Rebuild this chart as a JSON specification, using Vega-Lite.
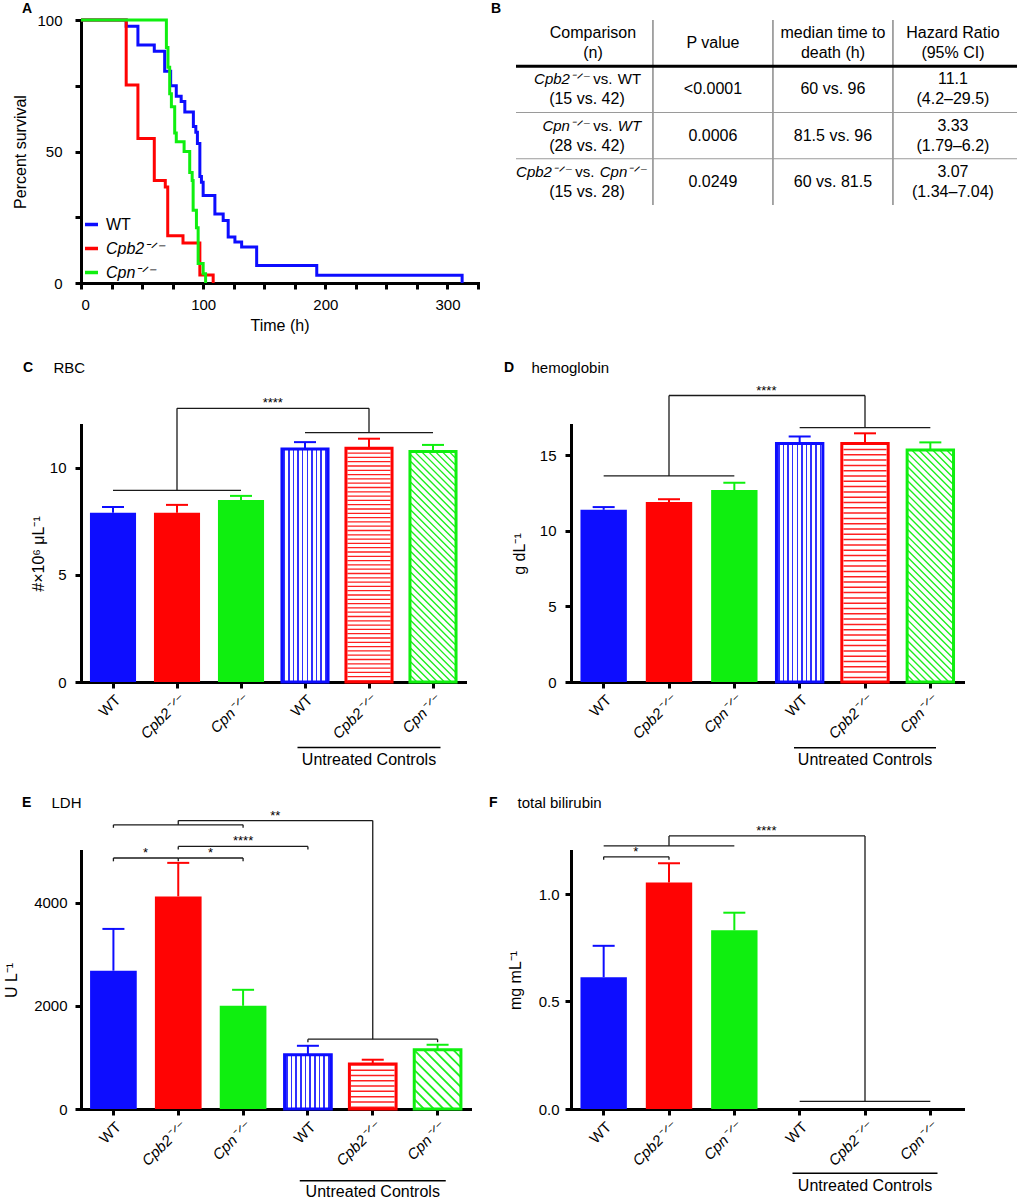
{
"$schema": "https://vega.github.io/schema/vega-lite/v6.json",
"padding": {"left": 3, "top": 2, "right": 0, "bottom": 0},
"spacing": 27,
"resolve": {"scale": {"color": "independent", "stroke": "independent"}, "legend": {"color": "independent", "stroke": "independent"}},
"config": {
  "font": "Liberation Sans",
  "view": {"stroke": null},
  "axis": {"domainColor": "black", "domainWidth": 3, "domainCap": "square", "tickColor": "black", "tickWidth": 3, "tickSize": 6, "labelColor": "black", "labelFontSize": 15, "titleColor": "black", "titleFontSize": 16, "titleFontWeight": "normal", "grid": false, "labelFont": "Liberation Sans", "titleFont": "Liberation Sans"},
  "title": {"anchor": "start", "frame": "group", "fontSize": 14, "fontWeight": "bold", "color": "black", "font": "Liberation Sans"},
  "text": {"font": "Liberation Sans", "color": "black"},
  "legend": {"labelFont": "Liberation Sans", "labelColor": "black"}
},
"datasets": {
  "surv": [
    {"g":"WT","t":0,"s":100},{"g":"WT","t":37,"s":97.6},{"g":"WT","t":46.6,"s":90.5},{"g":"WT","t":60,"s":88.1},{"g":"WT","t":68.5,"s":80.5},{"g":"WT","t":73.4,"s":75},{"g":"WT","t":78,"s":71},{"g":"WT","t":82,"s":69},{"g":"WT","t":85,"s":65},{"g":"WT","t":92,"s":59.5},{"g":"WT","t":94,"s":57.3},{"g":"WT","t":95.3,"s":53},{"g":"WT","t":97.3,"s":40.5},{"g":"WT","t":98.6,"s":38.3},{"g":"WT","t":100,"s":33.3},{"g":"WT","t":109.6,"s":26.2},{"g":"WT","t":116.4,"s":23.8},{"g":"WT","t":120.5,"s":17.5},{"g":"WT","t":126,"s":15.6},{"g":"WT","t":131.5,"s":13.7},{"g":"WT","t":143.8,"s":6.7},{"g":"WT","t":193,"s":2.9},{"g":"WT","t":312,"s":0},
    {"g":"Cpb2⁻ᐟ⁻","t":0,"s":100},{"g":"Cpb2⁻ᐟ⁻","t":37,"s":75.3},{"g":"Cpb2⁻ᐟ⁻","t":46.6,"s":54.9},{"g":"Cpb2⁻ᐟ⁻","t":60,"s":39},{"g":"Cpb2⁻ᐟ⁻","t":69,"s":36.5},{"g":"Cpb2⁻ᐟ⁻","t":71,"s":18},{"g":"Cpb2⁻ᐟ⁻","t":83.5,"s":15.2},{"g":"Cpb2⁻ᐟ⁻","t":97.3,"s":3},{"g":"Cpb2⁻ᐟ⁻","t":108.2,"s":0},
    {"g":"Cpn⁻ᐟ⁻","t":0,"s":100},{"g":"Cpn⁻ᐟ⁻","t":69.9,"s":89.5},{"g":"Cpn⁻ᐟ⁻","t":71.2,"s":82},{"g":"Cpn⁻ᐟ⁻","t":72.6,"s":72},{"g":"Cpn⁻ᐟ⁻","t":74,"s":67},{"g":"Cpn⁻ᐟ⁻","t":76.7,"s":57},{"g":"Cpn⁻ᐟ⁻","t":78,"s":53.7},{"g":"Cpn⁻ᐟ⁻","t":84.4,"s":50},{"g":"Cpn⁻ᐟ⁻","t":89,"s":42},{"g":"Cpn⁻ᐟ⁻","t":91,"s":39},{"g":"Cpn⁻ᐟ⁻","t":91.8,"s":27.7},{"g":"Cpn⁻ᐟ⁻","t":94.5,"s":21},{"g":"Cpn⁻ᐟ⁻","t":95.9,"s":7.4},{"g":"Cpn⁻ᐟ⁻","t":100,"s":3.5},{"g":"Cpn⁻ᐟ⁻","t":102,"s":0}
  ],
  "cells": [
    {"col":"c1","row":"h","t1":"Comparison","t2":"(n)"},
    {"col":"c2","row":"h","t0":"P value"},
    {"col":"c3","row":"h","t1":"median time to","t2":"death (h)"},
    {"col":"c4","row":"h","t1":"Hazard Ratio","t2":"(95% CI)"},
    {"col":"c2","row":"r1","t0":"<0.0001"},
    {"col":"c3","row":"r1","t0":"60 vs. 96"},
    {"col":"c4","row":"r1","t1":"11.1","t2":"(4.2–29.5)"},
    {"col":"c2","row":"r2","t0":"0.0006"},
    {"col":"c3","row":"r2","t0":"81.5 vs. 96"},
    {"col":"c4","row":"r2","t1":"3.33","t2":"(1.79–6.2)"},
    {"col":"c2","row":"r3","t0":"0.0249"},
    {"col":"c3","row":"r3","t0":"60 vs. 81.5"},
    {"col":"c4","row":"r3","t1":"3.07","t2":"(1.34–7.04)"}
  ],
  "cmp": [
    {"col":"c1","row":"r1","a":"Cpb2⁻ᐟ⁻","b":"WT","n":"(15 vs. 42)"},
    {"col":"c1","row":"r2","a":"Cpn⁻ᐟ⁻","b":"WT","n":"(28 vs. 42)"},
    {"col":"c1","row":"r3","a":"Cpb2⁻ᐟ⁻","b":"Cpn⁻ᐟ⁻","n":"(15 vs. 28)"}
  ],
  "vsep": [{"col":"c2"},{"col":"c3"},{"col":"c4"}],
  "hsep": [{"row":"r1","kind":"header"},{"row":"r2","kind":"row"},{"row":"r3","kind":"row"}],
  "C": [
    {"key":"T|WT","grp":"T","g":"WT","v":7.9,"e":8.17},
    {"key":"T|Cpb2","grp":"T","g":"Cpb2","v":7.9,"e":8.27},
    {"key":"T|Cpn","grp":"T","g":"Cpn","v":8.5,"e":8.69},
    {"key":"U|WT","grp":"U","g":"WT","v":10.88,"e":11.2},
    {"key":"U|Cpb2","grp":"U","g":"Cpb2","v":10.92,"e":11.36},
    {"key":"U|Cpn","grp":"U","g":"Cpn","v":10.76,"e":11.07}
  ],
  "D": [
    {"key":"T|WT","grp":"T","g":"WT","v":11.39,"e":11.57},
    {"key":"T|Cpb2","grp":"T","g":"Cpb2","v":11.91,"e":12.09},
    {"key":"T|Cpn","grp":"T","g":"Cpn","v":12.7,"e":13.18},
    {"key":"U|WT","grp":"U","g":"WT","v":15.78,"e":16.24},
    {"key":"U|Cpb2","grp":"U","g":"Cpb2","v":15.78,"e":16.45},
    {"key":"U|Cpn","grp":"U","g":"Cpn","v":15.35,"e":15.85}
  ],
  "E": [
    {"key":"T|WT","grp":"T","g":"WT","v":2680,"e":3490},
    {"key":"T|Cpb2","grp":"T","g":"Cpb2","v":4120,"e":4770},
    {"key":"T|Cpn","grp":"T","g":"Cpn","v":2000,"e":2310},
    {"key":"U|WT","grp":"U","g":"WT","v":1050,"e":1225},
    {"key":"U|Cpb2","grp":"U","g":"Cpb2","v":870,"e":955},
    {"key":"U|Cpn","grp":"U","g":"Cpn","v":1150,"e":1245}
  ],
  "F": [
    {"key":"T|WT","grp":"T","g":"WT","v":0.613,"e":0.759},
    {"key":"T|Cpb2","grp":"T","g":"Cpb2","v":1.054,"e":1.143},
    {"key":"T|Cpn","grp":"T","g":"Cpn","v":0.831,"e":0.913}
  ],
  "Cbr": [
    {"a":"T|WT","b":"T|Cpn","y1":8.95,"y2":8.95},
    {"a":"T|Cpb2","b":"T|Cpb2","y1":8.95,"y2":12.78},
    {"a":"T|Cpb2","b":"U|Cpb2","y1":12.78,"y2":12.78},
    {"a":"U|Cpb2","b":"U|Cpb2","y1":12.78,"y2":11.64},
    {"a":"U|WT","b":"U|Cpn","y1":11.64,"y2":11.64}
  ],
  "Cst": [{"key":"T|Cpn","y":12.78,"t":"****","pos":"mid"}],
  "Dbr": [
    {"a":"T|WT","b":"T|Cpn","y1":13.63,"y2":13.63},
    {"a":"T|Cpb2","b":"T|Cpb2","y1":13.63,"y2":18.95},
    {"a":"T|Cpb2","b":"U|Cpb2","y1":18.95,"y2":18.95},
    {"a":"U|Cpb2","b":"U|Cpb2","y1":18.95,"y2":16.82},
    {"a":"U|WT","b":"U|Cpn","y1":16.82,"y2":16.82}
  ],
  "Dst": [{"key":"T|Cpn","y":18.95,"t":"****","pos":"mid"}],
  "Ebr": [
    {"a":"T|WT","b":"T|Cpb2","y1":4864,"y2":4864},
    {"a":"T|WT","b":"T|WT","y1":4864,"y2":4800},
    {"a":"T|Cpb2","b":"T|Cpb2","y1":4864,"y2":4800},
    {"a":"T|Cpb2","b":"T|Cpn","y1":4864,"y2":4864},
    {"a":"T|Cpn","b":"T|Cpn","y1":4864,"y2":4800},
    {"a":"T|Cpb2","b":"U|WT","y1":5088,"y2":5088},
    {"a":"T|Cpb2","b":"T|Cpb2","y1":5088,"y2":5030},
    {"a":"U|WT","b":"U|WT","y1":5088,"y2":5030},
    {"a":"T|WT","b":"T|Cpn","y1":5507,"y2":5507},
    {"a":"T|WT","b":"T|WT","y1":5507,"y2":5450},
    {"a":"T|Cpn","b":"T|Cpn","y1":5507,"y2":5450},
    {"a":"T|Cpb2","b":"T|Cpb2","y1":5507,"y2":5590},
    {"a":"T|Cpb2","b":"U|Cpb2","y1":5590,"y2":5590},
    {"a":"U|Cpb2","b":"U|Cpb2","y1":5590,"y2":1353},
    {"a":"U|WT","b":"U|Cpn","y1":1353,"y2":1353},
    {"a":"U|WT","b":"U|WT","y1":1353,"y2":1295},
    {"a":"U|Cpn","b":"U|Cpn","y1":1353,"y2":1295}
  ],
  "Est": [
    {"key":"T|WT","y":4864,"t":"*","pos":"mid"},
    {"key":"T|Cpb2","y":4864,"t":"*","pos":"mid"},
    {"key":"T|Cpn","y":5088,"t":"****","pos":"center"},
    {"key":"T|Cpn","y":5590,"t":"**","pos":"mid"}
  ],
  "Fbr": [
    {"a":"T|WT","b":"T|Cpb2","y1":1.173,"y2":1.173},
    {"a":"T|WT","b":"T|WT","y1":1.173,"y2":1.159},
    {"a":"T|Cpb2","b":"T|Cpb2","y1":1.173,"y2":1.159},
    {"a":"T|WT","b":"T|Cpn","y1":1.224,"y2":1.224},
    {"a":"T|Cpb2","b":"T|Cpb2","y1":1.224,"y2":1.27},
    {"a":"T|Cpb2","b":"U|Cpb2","y1":1.27,"y2":1.27},
    {"a":"U|Cpb2","b":"U|Cpb2","y1":1.27,"y2":0.035},
    {"a":"U|WT","b":"U|Cpn","y1":0.035,"y2":0.035}
  ],
  "Fst": [
    {"key":"T|WT","y":1.173,"t":"*","pos":"mid"},
    {"key":"T|Cpn","y":1.27,"t":"****","pos":"mid"}
  ],
  "ucC": [{"key":"U|Cpb2","label":"Untreated Controls","ly":-3.06,"ty":-3.62}],
  "ucD": [{"key":"U|Cpb2","label":"Untreated Controls","ly":-4.35,"ty":-5.13}],
  "ucE": [{"key":"U|Cpb2","label":"Untreated Controls","ly":-1390,"ty":-1608}],
  "ucF": [{"key":"U|Cpb2","label":"Untreated Controls","ly":-0.299,"ty":-0.358}]
},
"vconcat": [
 {"hconcat": [
  {
   "width": 397, "height": 263,
   "title": {"text": "A", "dx": -59, "offset": -3},
   "data": {"name": "surv"},
   "mark": {"type": "line", "interpolate": "step-after", "strokeWidth": 3},
   "encoding": {
     "x": {"field": "t", "type": "quantitative", "scale": {"domain": [0, 325], "nice": false},
           "axis": {"values": [0,25,50,75,100,125,150,175,200,225,250,275,300,325], "labelExpr": "datum.value % 100 === 0 ? datum.label : ''", "title": "Time (h)", "labelPadding": 8, "titlePadding": 5}},
     "y": {"field": "s", "type": "quantitative", "scale": {"domain": [0, 100], "nice": false},
           "axis": {"values": [0,25,50,75,100], "labelExpr": "datum.value % 50 === 0 ? datum.label : ''", "title": "Percent survival", "labelPadding": 13, "titlePadding": 8}},
     "color": {"field": "g", "type": "nominal", "sort": ["WT","Cpb2⁻ᐟ⁻","Cpn⁻ᐟ⁻"],
               "scale": {"domain": ["WT","Cpb2⁻ᐟ⁻","Cpn⁻ᐟ⁻"], "range": ["#0d0dff","#ff0303","#0fef0f"]},
               "legend": {"orient": "bottom-left", "offset": 2, "title": null, "symbolType": "stroke", "symbolSize": 169, "symbolStrokeWidth": 3.5, "labelFontSize": 16, "labelOffset": 6, "rowPadding": 7, "labelFontStyle": {"expr": "datum.value === 'WT' ? 'normal' : 'italic'"}}}
   }
  },
  {
   "width": 502, "height": 185,
   "title": {"text": "B", "dx": -25, "offset": 3},
   "layer": [
     {"data": {"name": "vsep"}, "mark": {"type": "rule", "color": "#8a8a8a", "strokeWidth": 1.5},
      "encoding": {"x": {"field": "col", "type": "nominal", "bandPosition": 0, "scale": {"domain": ["c1","c2","c3","c4"], "paddingInner": 0, "paddingOuter": 0.0917, "align": 0.77}, "axis": null}}},
     {"data": {"name": "hsep"}, "transform": [{"filter": "datum.kind === 'header'"}], "mark": {"type": "rule", "color": "black", "strokeWidth": 3},
      "encoding": {"y": {"field": "row", "type": "nominal", "bandPosition": 0, "scale": {"domain": ["h","r1","r2","r3"], "paddingInner": 0, "paddingOuter": 0}, "axis": null}}},
     {"data": {"name": "hsep"}, "transform": [{"filter": "datum.kind === 'row'"}], "mark": {"type": "rule", "color": "#9a9a9a", "strokeWidth": 1.2},
      "encoding": {"y": {"field": "row", "type": "nominal", "bandPosition": 0, "scale": {"domain": ["h","r1","r2","r3"], "paddingInner": 0, "paddingOuter": 0}, "axis": null}}},
     {"data": {"name": "cells"}, "transform": [{"filter": "isValid(datum.t0)"}], "mark": {"type": "text", "fontSize": 16, "baseline": "middle"},
      "encoding": {"x": {"field": "col", "type": "nominal", "scale": {"domain": ["c1","c2","c3","c4"], "paddingInner": 0, "paddingOuter": 0.0917, "align": 0.77}, "axis": null},
                   "y": {"field": "row", "type": "nominal", "scale": {"domain": ["h","r1","r2","r3"], "paddingInner": 0, "paddingOuter": 0}, "axis": null},
                   "text": {"field": "t0"}}},
     {"data": {"name": "cells"}, "transform": [{"filter": "isValid(datum.t1)"}], "mark": {"type": "text", "fontSize": 16, "baseline": "middle", "dy": -10},
      "encoding": {"x": {"field": "col", "type": "nominal"}, "y": {"field": "row", "type": "nominal"}, "text": {"field": "t1"}}},
     {"data": {"name": "cells"}, "transform": [{"filter": "isValid(datum.t2)"}], "mark": {"type": "text", "fontSize": 16, "baseline": "middle", "dy": 10},
      "encoding": {"x": {"field": "col", "type": "nominal"}, "y": {"field": "row", "type": "nominal"}, "text": {"field": "t2"}}},
     {"data": {"name": "cmp"}, "transform": [{"filter": "datum.row !== 'r3'"}], "mark": {"type": "text", "fontSize": 15, "fontStyle": "italic", "align": "right", "baseline": "middle", "dx": -4, "dy": -10},
      "encoding": {"x": {"field": "col", "type": "nominal"}, "y": {"field": "row", "type": "nominal"}, "text": {"field": "a"}}},
     {"data": {"name": "cmp"}, "transform": [{"filter": "datum.row === 'r3'"}], "mark": {"type": "text", "fontSize": 15, "fontStyle": "italic", "align": "right", "baseline": "middle", "dx": -22, "dy": -10},
      "encoding": {"x": {"field": "col", "type": "nominal"}, "y": {"field": "row", "type": "nominal"}, "text": {"field": "a"}}},
     {"data": {"name": "cmp"}, "transform": [{"filter": "datum.row !== 'r3'"}], "mark": {"type": "text", "fontSize": 15, "align": "left", "baseline": "middle", "dx": 0.2, "dy": -10, "text": "vs."},
      "encoding": {"x": {"field": "col", "type": "nominal"}, "y": {"field": "row", "type": "nominal"}}},
     {"data": {"name": "cmp"}, "transform": [{"filter": "datum.row === 'r3'"}], "mark": {"type": "text", "fontSize": 15, "align": "left", "baseline": "middle", "dx": -17.8, "dy": -10, "text": "vs."},
      "encoding": {"x": {"field": "col", "type": "nominal"}, "y": {"field": "row", "type": "nominal"}}},
     {"data": {"name": "cmp"}, "transform": [{"filter": "datum.row === 'r1'"}], "mark": {"type": "text", "fontSize": 15, "align": "left", "baseline": "middle", "dx": 24.8, "dy": -10},
      "encoding": {"x": {"field": "col", "type": "nominal"}, "y": {"field": "row", "type": "nominal"}, "text": {"field": "b"}}},
     {"data": {"name": "cmp"}, "transform": [{"filter": "datum.row === 'r2'"}], "mark": {"type": "text", "fontSize": 15, "fontStyle": "italic", "align": "left", "baseline": "middle", "dx": 24.8, "dy": -10},
      "encoding": {"x": {"field": "col", "type": "nominal"}, "y": {"field": "row", "type": "nominal"}, "text": {"field": "b"}}},
     {"data": {"name": "cmp"}, "transform": [{"filter": "datum.row === 'r3'"}], "mark": {"type": "text", "fontSize": 15, "fontStyle": "italic", "align": "left", "baseline": "middle", "dx": 6.8, "dy": -10},
      "encoding": {"x": {"field": "col", "type": "nominal"}, "y": {"field": "row", "type": "nominal"}, "text": {"field": "b"}}},
     {"data": {"name": "cmp"}, "mark": {"type": "text", "fontSize": 16, "baseline": "middle", "dy": 10, "dx": -6},
      "encoding": {"x": {"field": "col", "type": "nominal"}, "y": {"field": "row", "type": "nominal"}, "text": {"field": "n"}}}
   ]
  }
 ], "spacing": 38, "bounds": "flush", "resolve": {"scale": {"color": "independent"}, "legend": {"color": "independent"}}},
 {"hconcat": [
  {
   "width": 384, "height": 257,
   "title": {"text": "C", "dx": -58, "offset": -15},
   "resolve": {"axis": {"x": "independent"}},
   "encoding": {
     "x": {"field": "key", "type": "nominal", "scale": {"domain": ["T|WT","T|Cpb2","T|Cpn","U|WT","U|Cpb2","U|Cpn"], "paddingInner": 0.28, "paddingOuter": 0.14}, "axis": null},
     "y": {"field": "v", "type": "quantitative", "scale": {"domain": [0, 12], "nice": false},
           "axis": {"values": [0,5,10], "title": "#×10⁶ μL⁻¹", "labelPadding": 9, "titlePadding": 3}}
   },
   "layer": [
     {"data": {"name": "C"}, "transform": [{"filter": "datum.grp === 'T'"}], "mark": {"type": "bar"},
      "encoding": {"x": {"field": "key", "type": "nominal", "scale": {"domain": ["T|WT","T|Cpb2","T|Cpn","U|WT","U|Cpb2","U|Cpn"], "paddingInner": 0.28, "paddingOuter": 0.14},
           "axis": {"title": null, "labelAngle": -45, "labelPadding": 4, "labelExpr": "indexof(datum.value,'WT')>=0 ? 'WT' : indexof(datum.value,'Cpb2')>=0 ? 'Cpb2⁻ᐟ⁻' : 'Cpn⁻ᐟ⁻'", "labelFontStyle": {"condition": {"test": "indexof(datum.value,'WT')>=0", "value": "normal"}, "value": "italic"}}},
                   "color": {"field": "g", "type": "nominal", "scale": {"domain": ["WT","Cpb2","Cpn"], "range": ["#0d0dff","#ff0303","#0fef0f"]}, "legend": null}}},
     {"data": {"name": "C"}, "transform": [{"filter": "datum.key === 'U|WT'"}],
      "mark": {"type": "bar", "fill": {"gradient": "linear", "x1": 0, "y1": 0, "x2": 1, "y2": 0, "stops": [
        {"offset":0,"color":"#ffffff"},
        {"offset":0.033,"color":"#ffffff"},{"offset":0.033,"color":"#3030ff"},{"offset":0.067,"color":"#3030ff"},{"offset":0.067,"color":"#ffffff"},
        {"offset":0.133,"color":"#ffffff"},{"offset":0.133,"color":"#3030ff"},{"offset":0.167,"color":"#3030ff"},{"offset":0.167,"color":"#ffffff"},
        {"offset":0.233,"color":"#ffffff"},{"offset":0.233,"color":"#3030ff"},{"offset":0.267,"color":"#3030ff"},{"offset":0.267,"color":"#ffffff"},
        {"offset":0.333,"color":"#ffffff"},{"offset":0.333,"color":"#3030ff"},{"offset":0.367,"color":"#3030ff"},{"offset":0.367,"color":"#ffffff"},
        {"offset":0.433,"color":"#ffffff"},{"offset":0.433,"color":"#3030ff"},{"offset":0.467,"color":"#3030ff"},{"offset":0.467,"color":"#ffffff"},
        {"offset":0.533,"color":"#ffffff"},{"offset":0.533,"color":"#3030ff"},{"offset":0.567,"color":"#3030ff"},{"offset":0.567,"color":"#ffffff"},
        {"offset":0.633,"color":"#ffffff"},{"offset":0.633,"color":"#3030ff"},{"offset":0.667,"color":"#3030ff"},{"offset":0.667,"color":"#ffffff"},
        {"offset":0.733,"color":"#ffffff"},{"offset":0.733,"color":"#3030ff"},{"offset":0.767,"color":"#3030ff"},{"offset":0.767,"color":"#ffffff"},
        {"offset":0.833,"color":"#ffffff"},{"offset":0.833,"color":"#3030ff"},{"offset":0.867,"color":"#3030ff"},{"offset":0.867,"color":"#ffffff"},
        {"offset":0.933,"color":"#ffffff"},{"offset":0.933,"color":"#3030ff"},{"offset":0.967,"color":"#3030ff"},{"offset":0.967,"color":"#ffffff"},
        {"offset":1,"color":"#ffffff"}]}}},
     {"data": {"name": "C"}, "transform": [{"filter": "datum.key === 'U|Cpb2'"}],
      "mark": {"type": "rule", "strokeWidth": 43, "strokeDash": [1.3, 3], "color": "#ff2020"},
      "encoding": {"y2": {"datum": 0}}},
     {"data": {"name": "C"}, "transform": [{"filter": "datum.key === 'U|Cpn'"}],
      "mark": {"type": "point", "filled": false, "opacity": 1, "color": "#1fef1f", "strokeWidth": 1.4, "size": 2123,
               "shape": "M-1,-0.3L-0.7,0M-1,-0.6L-0.4,0M-1,-0.9L-0.1,0M-1,-1.2L0.2,0M-1,-1.5L0.5,0M-1,-1.8L0.8,0M-1,-2.1L1,-0.1M-1,-2.4L1,-0.4M-1,-2.7L1,-0.7M-1,-3L1,-1M-1,-3.3L1,-1.3M-1,-3.6L1,-1.6M-1,-3.9L1,-1.9M-1,-4.2L1,-2.2M-1,-4.5L1,-2.5M-1,-4.8L1,-2.8M-1,-5.1L1,-3.1M-1,-5.4L1,-3.4M-1,-5.7L1,-3.7M-1,-6L1,-4M-1,-6.3L1,-4.3M-1,-6.6L1,-4.6M-1,-6.9L1,-4.9M-1,-7.2L1,-5.2M-1,-7.5L1,-5.5M-1,-7.8L1,-5.8M-1,-8.1L1,-6.1M-1,-8.4L1,-6.4M-1,-8.7L1,-6.7M-1,-9L1,-7M-1,-9.3L1,-7.3M-1,-9.6L1,-7.6M-1,-9.9L1,-7.9M-0.8,-10L1,-8.2M-0.5,-10L1,-8.5M-0.2,-10L1,-8.8M0.1,-10L1,-9.1M0.4,-10L1,-9.4M0.7,-10L1,-9.7"},
      "encoding": {"y": {"datum": 0}}},
     {"data": {"name": "C"}, "transform": [{"filter": "datum.grp === 'U'"}], "mark": {"type": "bar", "fill": "transparent", "strokeWidth": 3},
      "encoding": {"stroke": {"field": "g", "type": "nominal", "scale": {"domain": ["WT","Cpb2","Cpn"], "range": ["#0d0dff","#ff0303","#0fef0f"]}, "legend": null}}},
     {"data": {"name": "C"}, "mark": {"type": "rule", "strokeWidth": 2},
      "encoding": {"y2": {"field": "e"}, "color": {"field": "g", "type": "nominal", "scale": {"domain": ["WT","Cpb2","Cpn"], "range": ["#0d0dff","#ff0303","#0fef0f"]}, "legend": null}}},
     {"data": {"name": "C"}, "mark": {"type": "tick", "size": 22, "thickness": 2, "opacity": 1},
      "encoding": {"y": {"field": "e", "type": "quantitative"}, "color": {"field": "g", "type": "nominal", "scale": {"domain": ["WT","Cpb2","Cpn"], "range": ["#0d0dff","#ff0303","#0fef0f"]}, "legend": null}}},
     {"data": {"name": "Cbr"}, "mark": {"type": "rule", "color": "#1a1a1a", "strokeWidth": 1.3},
      "encoding": {"x": {"field": "a", "type": "nominal", "axis": null}, "x2": {"field": "b"}, "y": {"field": "y1", "type": "quantitative"}, "y2": {"field": "y2"}}},
     {"data": {"name": "Cst"}, "transform": [{"filter": "datum.pos === 'mid'"}], "mark": {"type": "text", "baseline": "alphabetic", "dy": -1, "fontSize": 13},
      "encoding": {"x": {"field": "key", "type": "nominal", "bandPosition": 1.19, "axis": null}, "y": {"field": "y", "type": "quantitative"}, "text": {"field": "t"}}},
     {"data": {"name": "ucC"}, "mark": {"type": "tick", "size": 143, "thickness": 1.5, "color": "black", "opacity": 1},
      "encoding": {"y": {"field": "ly", "type": "quantitative"}}},
     {"data": {"name": "ucC"}, "mark": {"type": "text", "fontSize": 16, "baseline": "middle"},
      "encoding": {"x": {"field": "key", "type": "nominal", "axis": {"orient": "top", "labels": false, "ticks": false, "domain": false, "title": "RBC", "titleX": -28, "titleY": -58, "titleAlign": "left", "titleBaseline": "middle", "titleFontSize": 15}},
                   "y": {"field": "ty", "type": "quantitative"}, "text": {"field": "label"}}}
   ]
  },
  {
   "width": 392, "height": 257,
   "title": {"text": "D", "dx": -67, "offset": -15},
   "resolve": {"axis": {"x": "independent"}},
   "encoding": {
     "x": {"field": "key", "type": "nominal", "scale": {"domain": ["T|WT","T|Cpb2","T|Cpn","U|WT","U|Cpb2","U|Cpn"], "paddingInner": 0.29, "paddingOuter": 0.145}, "axis": null},
     "y": {"field": "v", "type": "quantitative", "scale": {"domain": [0, 17], "nice": false},
           "axis": {"values": [0,5,10,15], "title": "g dL⁻¹", "labelPadding": 9, "titlePadding": 12}}
   },
   "layer": [
     {"data": {"name": "D"}, "transform": [{"filter": "datum.grp === 'T'"}], "mark": {"type": "bar"},
      "encoding": {"x": {"field": "key", "type": "nominal", "scale": {"domain": ["T|WT","T|Cpb2","T|Cpn","U|WT","U|Cpb2","U|Cpn"], "paddingInner": 0.29, "paddingOuter": 0.145},
           "axis": {"title": null, "labelAngle": -45, "labelPadding": 4, "labelExpr": "indexof(datum.value,'WT')>=0 ? 'WT' : indexof(datum.value,'Cpb2')>=0 ? 'Cpb2⁻ᐟ⁻' : 'Cpn⁻ᐟ⁻'", "labelFontStyle": {"condition": {"test": "indexof(datum.value,'WT')>=0", "value": "normal"}, "value": "italic"}}},
                   "color": {"field": "g", "type": "nominal", "scale": {"domain": ["WT","Cpb2","Cpn"], "range": ["#0d0dff","#ff0303","#0fef0f"]}, "legend": null}}},
     {"data": {"name": "D"}, "transform": [{"filter": "datum.key === 'U|WT'"}],
      "mark": {"type": "bar", "fill": {"gradient": "linear", "x1": 0, "y1": 0, "x2": 1, "y2": 0, "stops": [
        {"offset":0,"color":"#ffffff"},
        {"offset":0.033,"color":"#ffffff"},{"offset":0.033,"color":"#3030ff"},{"offset":0.067,"color":"#3030ff"},{"offset":0.067,"color":"#ffffff"},
        {"offset":0.133,"color":"#ffffff"},{"offset":0.133,"color":"#3030ff"},{"offset":0.167,"color":"#3030ff"},{"offset":0.167,"color":"#ffffff"},
        {"offset":0.233,"color":"#ffffff"},{"offset":0.233,"color":"#3030ff"},{"offset":0.267,"color":"#3030ff"},{"offset":0.267,"color":"#ffffff"},
        {"offset":0.333,"color":"#ffffff"},{"offset":0.333,"color":"#3030ff"},{"offset":0.367,"color":"#3030ff"},{"offset":0.367,"color":"#ffffff"},
        {"offset":0.433,"color":"#ffffff"},{"offset":0.433,"color":"#3030ff"},{"offset":0.467,"color":"#3030ff"},{"offset":0.467,"color":"#ffffff"},
        {"offset":0.533,"color":"#ffffff"},{"offset":0.533,"color":"#3030ff"},{"offset":0.567,"color":"#3030ff"},{"offset":0.567,"color":"#ffffff"},
        {"offset":0.633,"color":"#ffffff"},{"offset":0.633,"color":"#3030ff"},{"offset":0.667,"color":"#3030ff"},{"offset":0.667,"color":"#ffffff"},
        {"offset":0.733,"color":"#ffffff"},{"offset":0.733,"color":"#3030ff"},{"offset":0.767,"color":"#3030ff"},{"offset":0.767,"color":"#ffffff"},
        {"offset":0.833,"color":"#ffffff"},{"offset":0.833,"color":"#3030ff"},{"offset":0.867,"color":"#3030ff"},{"offset":0.867,"color":"#ffffff"},
        {"offset":0.933,"color":"#ffffff"},{"offset":0.933,"color":"#3030ff"},{"offset":0.967,"color":"#3030ff"},{"offset":0.967,"color":"#ffffff"},
        {"offset":1,"color":"#ffffff"}]}}},
     {"data": {"name": "D"}, "transform": [{"filter": "datum.key === 'U|Cpb2'"}],
      "mark": {"type": "rule", "strokeWidth": 43, "strokeDash": [1.5, 3.8], "color": "#ff2020"},
      "encoding": {"y2": {"datum": 0}}},
     {"data": {"name": "D"}, "transform": [{"filter": "datum.key === 'U|Cpn'"}],
      "mark": {"type": "point", "filled": false, "opacity": 1, "color": "#1fef1f", "strokeWidth": 1.4, "size": 2152,
               "shape": "M-1,-0.3L-0.7,0M-1,-0.6L-0.4,0M-1,-0.9L-0.1,0M-1,-1.2L0.2,0M-1,-1.5L0.5,0M-1,-1.8L0.8,0M-1,-2.1L1,-0.1M-1,-2.4L1,-0.4M-1,-2.7L1,-0.7M-1,-3L1,-1M-1,-3.3L1,-1.3M-1,-3.6L1,-1.6M-1,-3.9L1,-1.9M-1,-4.2L1,-2.2M-1,-4.5L1,-2.5M-1,-4.8L1,-2.8M-1,-5.1L1,-3.1M-1,-5.4L1,-3.4M-1,-5.7L1,-3.7M-1,-6L1,-4M-1,-6.3L1,-4.3M-1,-6.6L1,-4.6M-1,-6.9L1,-4.9M-1,-7.2L1,-5.2M-1,-7.5L1,-5.5M-1,-7.8L1,-5.8M-1,-8.1L1,-6.1M-1,-8.4L1,-6.4M-1,-8.7L1,-6.7M-1,-9L1,-7M-1,-9.3L1,-7.3M-1,-9.6L1,-7.6M-1,-9.9L1,-7.9M-0.8,-10L1,-8.2M-0.5,-10L1,-8.5M-0.2,-10L1,-8.8M0.1,-10L1,-9.1M0.4,-10L1,-9.4M0.7,-10L1,-9.7"},
      "encoding": {"y": {"datum": 0}}},
     {"data": {"name": "D"}, "transform": [{"filter": "datum.grp === 'U'"}], "mark": {"type": "bar", "fill": "transparent", "strokeWidth": 3},
      "encoding": {"stroke": {"field": "g", "type": "nominal", "scale": {"domain": ["WT","Cpb2","Cpn"], "range": ["#0d0dff","#ff0303","#0fef0f"]}, "legend": null}}},
     {"data": {"name": "D"}, "mark": {"type": "rule", "strokeWidth": 2},
      "encoding": {"y2": {"field": "e"}, "color": {"field": "g", "type": "nominal", "scale": {"domain": ["WT","Cpb2","Cpn"], "range": ["#0d0dff","#ff0303","#0fef0f"]}, "legend": null}}},
     {"data": {"name": "D"}, "mark": {"type": "tick", "size": 22, "thickness": 2, "opacity": 1},
      "encoding": {"y": {"field": "e", "type": "quantitative"}, "color": {"field": "g", "type": "nominal", "scale": {"domain": ["WT","Cpb2","Cpn"], "range": ["#0d0dff","#ff0303","#0fef0f"]}, "legend": null}}},
     {"data": {"name": "Dbr"}, "mark": {"type": "rule", "color": "#1a1a1a", "strokeWidth": 1.3},
      "encoding": {"x": {"field": "a", "type": "nominal", "axis": null}, "x2": {"field": "b"}, "y": {"field": "y1", "type": "quantitative"}, "y2": {"field": "y2"}}},
     {"data": {"name": "Dst"}, "transform": [{"filter": "datum.pos === 'mid'"}], "mark": {"type": "text", "baseline": "alphabetic", "dy": -1, "fontSize": 13},
      "encoding": {"x": {"field": "key", "type": "nominal", "bandPosition": 1.19, "axis": null}, "y": {"field": "y", "type": "quantitative"}, "text": {"field": "t"}}},
     {"data": {"name": "ucD"}, "mark": {"type": "tick", "size": 142, "thickness": 1.5, "color": "black", "opacity": 1},
      "encoding": {"y": {"field": "ly", "type": "quantitative"}}},
     {"data": {"name": "ucD"}, "mark": {"type": "text", "fontSize": 16, "baseline": "middle"},
      "encoding": {"x": {"field": "key", "type": "nominal", "axis": {"orient": "top", "labels": false, "ticks": false, "domain": false, "title": "hemoglobin", "titleX": -40, "titleY": -58, "titleAlign": "left", "titleBaseline": "middle", "titleFontSize": 15}},
                   "y": {"field": "ty", "type": "quantitative"}, "text": {"field": "label"}}}
   ]
  }
 ], "spacing": 106, "bounds": "flush", "resolve": {"scale": {"color": "independent", "stroke": "independent"}, "legend": {"color": "independent", "stroke": "independent"}}},
 {"hconcat": [
  {
   "width": 389, "height": 258,
   "title": {"text": "E", "dx": -59, "offset": -15},
   "resolve": {"axis": {"x": "independent"}},
   "encoding": {
     "x": {"field": "key", "type": "nominal", "scale": {"domain": ["T|WT","T|Cpb2","T|Cpn","U|WT","U|Cpb2","U|Cpn"], "paddingInner": 0.28, "paddingOuter": 0.14}, "axis": null},
     "y": {"field": "v", "type": "quantitative", "scale": {"domain": [0, 5000], "nice": false},
           "axis": {"values": [0,2000,4000], "format": "d", "title": "U L⁻¹", "labelPadding": 8, "titlePadding": 14}}
   },
   "layer": [
     {"data": {"name": "E"}, "transform": [{"filter": "datum.grp === 'T'"}], "mark": {"type": "bar"},
      "encoding": {"x": {"field": "key", "type": "nominal", "scale": {"domain": ["T|WT","T|Cpb2","T|Cpn","U|WT","U|Cpb2","U|Cpn"], "paddingInner": 0.28, "paddingOuter": 0.14},
           "axis": {"title": null, "labelAngle": -45, "labelPadding": 4, "labelExpr": "indexof(datum.value,'WT')>=0 ? 'WT' : indexof(datum.value,'Cpb2')>=0 ? 'Cpb2⁻ᐟ⁻' : 'Cpn⁻ᐟ⁻'", "labelFontStyle": {"condition": {"test": "indexof(datum.value,'WT')>=0", "value": "normal"}, "value": "italic"}}},
                   "color": {"field": "g", "type": "nominal", "scale": {"domain": ["WT","Cpb2","Cpn"], "range": ["#0d0dff","#ff0303","#0fef0f"]}, "legend": null}}},
     {"data": {"name": "E"}, "transform": [{"filter": "datum.key === 'U|WT'"}],
      "mark": {"type": "bar", "fill": {"gradient": "linear", "x1": 0, "y1": 0, "x2": 1, "y2": 0, "stops": [
        {"offset":0,"color":"#ffffff"},
        {"offset":0.033,"color":"#ffffff"},{"offset":0.033,"color":"#3030ff"},{"offset":0.067,"color":"#3030ff"},{"offset":0.067,"color":"#ffffff"},
        {"offset":0.133,"color":"#ffffff"},{"offset":0.133,"color":"#3030ff"},{"offset":0.167,"color":"#3030ff"},{"offset":0.167,"color":"#ffffff"},
        {"offset":0.233,"color":"#ffffff"},{"offset":0.233,"color":"#3030ff"},{"offset":0.267,"color":"#3030ff"},{"offset":0.267,"color":"#ffffff"},
        {"offset":0.333,"color":"#ffffff"},{"offset":0.333,"color":"#3030ff"},{"offset":0.367,"color":"#3030ff"},{"offset":0.367,"color":"#ffffff"},
        {"offset":0.433,"color":"#ffffff"},{"offset":0.433,"color":"#3030ff"},{"offset":0.467,"color":"#3030ff"},{"offset":0.467,"color":"#ffffff"},
        {"offset":0.533,"color":"#ffffff"},{"offset":0.533,"color":"#3030ff"},{"offset":0.567,"color":"#3030ff"},{"offset":0.567,"color":"#ffffff"},
        {"offset":0.633,"color":"#ffffff"},{"offset":0.633,"color":"#3030ff"},{"offset":0.667,"color":"#3030ff"},{"offset":0.667,"color":"#ffffff"},
        {"offset":0.733,"color":"#ffffff"},{"offset":0.733,"color":"#3030ff"},{"offset":0.767,"color":"#3030ff"},{"offset":0.767,"color":"#ffffff"},
        {"offset":0.833,"color":"#ffffff"},{"offset":0.833,"color":"#3030ff"},{"offset":0.867,"color":"#3030ff"},{"offset":0.867,"color":"#ffffff"},
        {"offset":0.933,"color":"#ffffff"},{"offset":0.933,"color":"#3030ff"},{"offset":0.967,"color":"#3030ff"},{"offset":0.967,"color":"#ffffff"},
        {"offset":1,"color":"#ffffff"}]}}},
     {"data": {"name": "E"}, "transform": [{"filter": "datum.key === 'U|Cpb2'"}],
      "mark": {"type": "rule", "strokeWidth": 43.5, "strokeDash": [1.5, 3.8], "color": "#ff2020"},
      "encoding": {"y2": {"datum": 0}}},
     {"data": {"name": "E"}, "transform": [{"filter": "datum.key === 'U|Cpn'"}],
      "mark": {"type": "point", "filled": false, "opacity": 1, "color": "#1fef1f", "strokeWidth": 1.8, "size": 2179,
               "shape": "M-1,-0.42L-0.58,0M-1,-0.84L-0.16,0M-1,-1.26L0.26,0M-1,-1.68L0.68,0M-1,-2.1L1,-0.1M-1,-2.52L1,-0.52M-0.6,-2.54L1,-0.94M-0.18,-2.54L1,-1.36M0.24,-2.54L1,-1.78M0.66,-2.54L1,-2.2"},
      "encoding": {"y": {"datum": 0}}},
     {"data": {"name": "E"}, "transform": [{"filter": "datum.grp === 'U'"}], "mark": {"type": "bar", "fill": "transparent", "strokeWidth": 3},
      "encoding": {"stroke": {"field": "g", "type": "nominal", "scale": {"domain": ["WT","Cpb2","Cpn"], "range": ["#0d0dff","#ff0303","#0fef0f"]}, "legend": null}}},
     {"data": {"name": "E"}, "mark": {"type": "rule", "strokeWidth": 2},
      "encoding": {"y2": {"field": "e"}, "color": {"field": "g", "type": "nominal", "scale": {"domain": ["WT","Cpb2","Cpn"], "range": ["#0d0dff","#ff0303","#0fef0f"]}, "legend": null}}},
     {"data": {"name": "E"}, "mark": {"type": "tick", "size": 22, "thickness": 2, "opacity": 1},
      "encoding": {"y": {"field": "e", "type": "quantitative"}, "color": {"field": "g", "type": "nominal", "scale": {"domain": ["WT","Cpb2","Cpn"], "range": ["#0d0dff","#ff0303","#0fef0f"]}, "legend": null}}},
     {"data": {"name": "Ebr"}, "mark": {"type": "rule", "color": "#1a1a1a", "strokeWidth": 1.3},
      "encoding": {"x": {"field": "a", "type": "nominal", "axis": null}, "x2": {"field": "b"}, "y": {"field": "y1", "type": "quantitative"}, "y2": {"field": "y2"}}},
     {"data": {"name": "Est"}, "transform": [{"filter": "datum.pos === 'mid'"}], "mark": {"type": "text", "baseline": "alphabetic", "dy": -1, "fontSize": 13},
      "encoding": {"x": {"field": "key", "type": "nominal", "bandPosition": 1.19, "axis": null}, "y": {"field": "y", "type": "quantitative"}, "text": {"field": "t"}}},
     {"data": {"name": "Est"}, "transform": [{"filter": "datum.pos === 'center'"}], "mark": {"type": "text", "baseline": "alphabetic", "dy": -1, "fontSize": 13},
      "encoding": {"x": {"field": "key", "type": "nominal", "axis": null}, "y": {"field": "y", "type": "quantitative"}, "text": {"field": "t"}}},
     {"data": {"name": "ucE"}, "mark": {"type": "tick", "size": 146, "thickness": 1.5, "color": "black", "opacity": 1},
      "encoding": {"y": {"field": "ly", "type": "quantitative"}}},
     {"data": {"name": "ucE"}, "mark": {"type": "text", "fontSize": 16, "baseline": "middle"},
      "encoding": {"x": {"field": "key", "type": "nominal", "axis": {"orient": "top", "labels": false, "ticks": false, "domain": false, "title": "LDH", "titleX": -30, "titleY": -49, "titleAlign": "left", "titleBaseline": "middle", "titleFontSize": 15}},
                   "y": {"field": "ty", "type": "quantitative"}, "text": {"field": "label"}}}
   ]
  },
  {
   "width": 392, "height": 258,
   "title": {"text": "F", "dx": -82, "offset": -15},
   "resolve": {"axis": {"x": "independent"}},
   "encoding": {
     "x": {"field": "key", "type": "nominal", "scale": {"domain": ["T|WT","T|Cpb2","T|Cpn","U|WT","U|Cpb2","U|Cpn"], "paddingInner": 0.29, "paddingOuter": 0.145}, "axis": null},
     "y": {"field": "v", "type": "quantitative", "scale": {"domain": [0, 1.2], "nice": false},
           "axis": {"values": [0,0.5,1], "format": ".1f", "title": "mg mL⁻¹", "labelPadding": 6, "titlePadding": 15}}
   },
   "layer": [
     {"data": {"name": "F"}, "mark": {"type": "bar"},
      "encoding": {"x": {"field": "key", "type": "nominal", "scale": {"domain": ["T|WT","T|Cpb2","T|Cpn","U|WT","U|Cpb2","U|Cpn"], "paddingInner": 0.29, "paddingOuter": 0.145},
           "axis": {"title": null, "labelAngle": -45, "labelPadding": 4, "labelExpr": "indexof(datum.value,'WT')>=0 ? 'WT' : indexof(datum.value,'Cpb2')>=0 ? 'Cpb2⁻ᐟ⁻' : 'Cpn⁻ᐟ⁻'", "labelFontStyle": {"condition": {"test": "indexof(datum.value,'WT')>=0", "value": "normal"}, "value": "italic"}}},
                   "color": {"field": "g", "type": "nominal", "scale": {"domain": ["WT","Cpb2","Cpn"], "range": ["#0d0dff","#ff0303","#0fef0f"]}, "legend": null}}},
     {"data": {"name": "F"}, "mark": {"type": "rule", "strokeWidth": 2},
      "encoding": {"y2": {"field": "e"}, "color": {"field": "g", "type": "nominal", "scale": {"domain": ["WT","Cpb2","Cpn"], "range": ["#0d0dff","#ff0303","#0fef0f"]}, "legend": null}}},
     {"data": {"name": "F"}, "mark": {"type": "tick", "size": 22, "thickness": 2, "opacity": 1},
      "encoding": {"y": {"field": "e", "type": "quantitative"}, "color": {"field": "g", "type": "nominal", "scale": {"domain": ["WT","Cpb2","Cpn"], "range": ["#0d0dff","#ff0303","#0fef0f"]}, "legend": null}}},
     {"data": {"name": "Fbr"}, "mark": {"type": "rule", "color": "#1a1a1a", "strokeWidth": 1.3},
      "encoding": {"x": {"field": "a", "type": "nominal", "axis": null}, "x2": {"field": "b"}, "y": {"field": "y1", "type": "quantitative"}, "y2": {"field": "y2"}}},
     {"data": {"name": "Fst"}, "transform": [{"filter": "datum.pos === 'mid'"}], "mark": {"type": "text", "baseline": "alphabetic", "dy": -1, "fontSize": 13},
      "encoding": {"x": {"field": "key", "type": "nominal", "bandPosition": 1.19, "axis": null}, "y": {"field": "y", "type": "quantitative"}, "text": {"field": "t"}}},
     {"data": {"name": "ucF"}, "mark": {"type": "tick", "size": 145, "thickness": 1.5, "color": "black", "opacity": 1},
      "encoding": {"y": {"field": "ly", "type": "quantitative"}}},
     {"data": {"name": "ucF"}, "mark": {"type": "text", "fontSize": 16, "baseline": "middle"},
      "encoding": {"x": {"field": "key", "type": "nominal", "axis": {"orient": "top", "labels": false, "ticks": false, "domain": false, "title": "total bilirubin", "titleX": -54, "titleY": -49, "titleAlign": "left", "titleBaseline": "middle", "titleFontSize": 15}},
                   "y": {"field": "ty", "type": "quantitative"}, "text": {"field": "label"}}}
   ]
  }
 ], "spacing": 101, "bounds": "flush", "resolve": {"scale": {"color": "independent", "stroke": "independent"}, "legend": {"color": "independent", "stroke": "independent"}}}
]
}
